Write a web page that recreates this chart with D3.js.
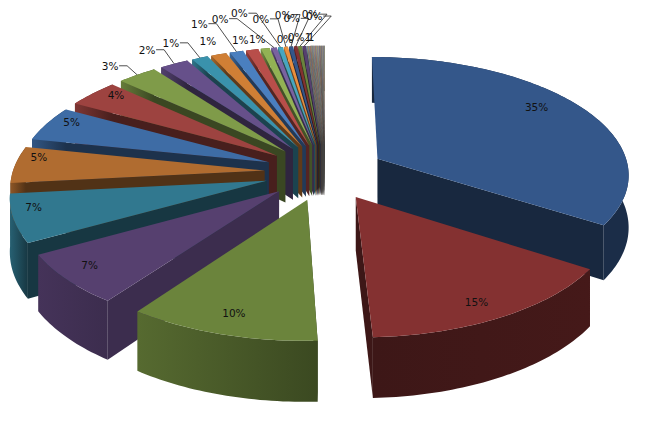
<!DOCTYPE html>
<html><head><meta charset="utf-8">
<script src="https://cdnjs.cloudflare.com/ajax/libs/d3/7.8.5/d3.min.js"></script>
<style>html,body{margin:0;padding:0;background:#fff}svg{display:block}</style>
</head><body><svg id="c" width="668" height="440"></svg>
<script>
// ---- data ----
const tailValues = [0.07,0.06,0.06,0.06,0.05,0.05,0.05,0.05,0.05,0.05,0.05,0.05,0.04,0.04,0.04,0.04,0.04,0.04,0.04,0.04,0.03,0.03,0.03,0.03];
const mainValues = [34.2,15.1,10.6,6.9,6.5,5.0,4.8,3.8,2.9,2.1,1.2,1.15,1.0,0.9,0.65,0.4,0.35,0.3,0.3,0.25,0.25,0.25];
const values = mainValues.concat(tailValues);
const mainLabels = ["35%","15%","10%","7%","7%","5%","5%","4%","3%","2%","1%","1%","1%","1%","1%","0%","0%","0%","0%","0%","0%","0%"];
const tailLabels = ["0%","0%","1","1"];
const labels = mainLabels.concat(tailLabels);

// ---- palette and layout ----
const topColors = ["#34578a","#843131","#6b843c","#56406f","#31788f","#b06c30",
                   "#3e6ca5","#9d4340","#7f9b49","#66508a","#3a92ac","#d07f35",
                   "#4a7fbf","#b84e4a","#92b254","#7a62a0","#46a6c0","#ea8f3c"];
const wallShade = 0.46, purpleWallShade = 0.7;
const cx = 325, cy = 172, A = 252, B = 117, P = 0.12, D = 52, EXPLODE = 0.24;
const insideReach = [0.78,0.78,0.78,0.78,0.8,0.82,0.82,0.82];
const insideNudges = [[-2,-11],[9,14],[-8,11],[-27,6],[-32,-4],[-21,-9],[-14,-8],[-8,-9]];
const outerOffsets = [[-27,-9],[-27,-14],[-29,-15],[-11,-13],[-37,-28],[-12,-10],[-8,-9],[-54,-29],[-41,-34],[-25,-28],[-8,-32],[-4,-28],[10,-32],[10,-30],[-22,-7],[-12,-9],[-1,-9],[1,-9]];
const outerSlices = [8,9,10,11,12,13,14,15,16,17,18,19,20,21,22,23,24,25];
const leaderless = new Set([11,13,14,22,23,24,25]);

const svg = d3.select("#c");
const defs = svg.append("defs");
const pie = d3.pie().sort(null).value(d=>d);
const arcs = pie(values);

function ground(theta, r, mid){
  return [r*Math.sin(theta)+EXPLODE*Math.sin(mid), -r*Math.cos(theta)-EXPLODE*Math.cos(mid)];
}
function proj(g, z){
  const s = 1/(1-P*g[1]);
  return [cx+A*g[0]*s, cy+B*g[1]*s+(z?D*s:0)];
}
const line = d3.line();
const slices = arcs.map((a,i)=>{
  const mid=(a.startAngle+a.endAngle)/2;
  const n=Math.max(2,Math.ceil((a.endAngle-a.startAngle)/0.02));
  const ths=d3.range(n+1).map(k=>a.startAngle+(a.endAngle-a.startAngle)*k/n);
  let col=topColors[i%topColors.length];
  if(i>=mainValues.length) col=d3.interpolateRgb(col,"#a8a098")(0.55);
  return {i,a,mid,ths,apex:ground(0,0,mid),col};
});
// back slices first
const order = slices.slice().sort((p,q)=>(-Math.cos(p.mid))-(-Math.cos(q.mid)));
const g = svg.append("g");
order.forEach(S=>{
  const top=S.ths.map(t=>ground(t,1,S.mid));
  const wall=d3.rgb(S.col);
  const k=S.i===3?purpleWallShade:wallShade;
  const dark=d3.rgb(wall.r*k,wall.g*k,wall.b*k);
  const lite=d3.rgb(wall.r*0.8,wall.g*0.8,wall.b*0.8);
  const p0=proj(top[0]),p1=proj(top[top.length-1]);
  const gid="rim"+S.i;
  const lg=defs.append("linearGradient").attr("id",gid).attr("gradientUnits","userSpaceOnUse")
    .attr("x1",Math.min(p0[0],p1[0])).attr("y1",0).attr("x2",Math.max(p0[0],p1[0])).attr("y2",0);
  const leftSide=Math.sin(S.mid)<0;
  const rimEnd=S.i===2?d3.rgb(wall.r*0.55,wall.g*0.55,wall.b*0.55):dark;
  lg.append("stop").attr("offset",0).attr("stop-color",leftSide?lite:dark);
  lg.append("stop").attr("offset",1).attr("stop-color",leftSide?rimEnd:d3.rgb(wall.r*0.52,wall.g*0.52,wall.b*0.52));
  const quad=(a,b)=>[proj(a),proj(b),proj(b,1),proj(a,1)];
  // only the radial wall that faces the viewer
  const edge=leftSide?top[0]:top[top.length-1];
  g.append("path").attr("d",line(quad(S.apex,edge))+"Z").attr("fill",dark);
  // rim wall
  const rim=top.map(t=>proj(t)).concat(top.slice().reverse().map(t=>proj(t,1)));
  g.append("path").attr("d",line(rim)+"Z").attr("fill",`url(#${gid})`);
  // top face
  const face=[proj(S.apex)].concat(top.map(t=>proj(t)));
  g.append("path").attr("d",line(face)+"Z").attr("fill",S.col);
});

// labels
const lab = svg.append("g").attr("font-family","'DejaVu Sans'").attr("font-size",10.5).attr("fill","#111");
slices.forEach(S=>{
  const i=S.i; if(i>=labels.length) return;
  let pos;
  if(i<insideReach.length){
    const q=proj(ground(S.mid,insideReach[i],S.mid));
    pos=[q[0]+insideNudges[i][0],q[1]+insideNudges[i][1]];
  } else {
    const k=outerSlices.indexOf(i);
    const rim=proj(ground(S.mid,1,S.mid));
    const o=outerOffsets[k]||[0,-14];
    pos=[rim[0]+o[0],rim[1]+o[1]];
    if(!leaderless.has(i)){
      lab.append("path").attr("d",line([[pos[0]+9,pos[1]],[pos[0]+17,pos[1]],rim]))
        .attr("fill","none").attr("stroke","#222").attr("stroke-width",0.8);
    }
  }
  lab.append("text").attr("x",pos[0]).attr("y",pos[1]).attr("text-anchor","middle")
     .attr("dominant-baseline","central").text(labels[i]);
});
</script></body></html>
